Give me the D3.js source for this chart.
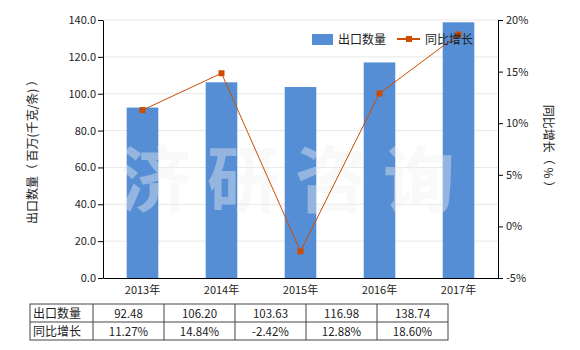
<!DOCTYPE html>
<html>
<head>
<meta charset="utf-8">
<script src="https://cdn.jsdelivr.net/npm/d3@7"></script>
<style>
  body { margin: 0; background: #fff; }
  svg { font-family: "Noto Sans CJK SC", "DejaVu Sans", sans-serif; }
</style>
</head>
<body>
<svg id="chart" width="580" height="350"></svg>
<script>
/*** DATA ***/
const years = ['2013年', '2014年', '2015年', '2016年', '2017年'];
const exportQty = [92.48, 106.20, 103.63, 116.98, 138.74];
const growth = [11.27, 14.84, -2.42, 12.88, 18.60];
const qtyLabels = ['92.48', '106.20', '103.63', '116.98', '138.74'];
const growthLabels = ['11.27%', '14.84%', '-2.42%', '12.88%', '18.60%'];
const leftTicks = [0, 20, 40, 60, 80, 100, 120, 140];
const rightTicks = [-5, 0, 5, 10, 15, 20];

const barColor = '#558ed5';
const lineColor = '#cc4c02';

/*** SCALES ***/
const plot = {left: 103, right: 498, top: 20, bottom: 278};
const svg = d3.select('#chart');

const x = d3.scaleBand().domain(years).range([plot.left, plot.right]).paddingInner(0.6).paddingOuter(0.3);
const y = d3.scaleLinear().domain([0, 140]).range([plot.bottom, plot.top]);
const y2 = d3.scaleLinear().domain([-5, 20]).range([plot.bottom, plot.top]);

// gridlines
svg.append('g')
  .selectAll('line')
  .data(leftTicks.filter(d => d > 0))
  .enter().append('line')
    .attr('x1', plot.left).attr('x2', plot.right)
    .attr('y1', d => y(d)).attr('y2', d => y(d))
    .attr('stroke', '#e8e8e8');

// bars
svg.append('g')
  .selectAll('rect')
  .data(exportQty)
  .enter().append('rect')
    .attr('x', (d, i) => x(years[i]))
    .attr('width', x.bandwidth())
    .attr('y', d => y(d))
    .attr('height', d => y(0) - y(d))
    .attr('fill', barColor);

// watermark
svg.append('text')
  .attr('x', 295).attr('y', 206)
  .attr('text-anchor', 'middle')
  .attr('font-size', 72).attr('font-weight', 'bold')
  .attr('letter-spacing', 16)
  .attr('fill', '#f0f0f0').attr('fill-opacity', 0.4)
  .text('济研咨询');

// line
const cx = i => x(years[i]) + x.bandwidth() / 2;
const line = d3.line().x((d, i) => cx(i)).y(d => y2(d));
svg.append('path')
  .datum(growth)
  .attr('fill', 'none')
  .attr('stroke', lineColor)
  .attr('stroke-width', 1)
  .attr('d', line);

svg.append('g')
  .selectAll('rect')
  .data(growth)
  .enter().append('rect')
    .attr('x', (d, i) => cx(i) - 3)
    .attr('y', d => y2(d) - 3)
    .attr('width', 6).attr('height', 6)
    .attr('fill', lineColor);

/*** AXES ***/
const fmt1 = d3.format('.1f');
const leftAxis = svg.append('g')
  .attr('transform', `translate(${plot.left},0)`)
  .call(d3.axisLeft(y).tickValues(leftTicks).tickFormat(fmt1).tickSize(5).tickSizeOuter(0));

const rightAxis = svg.append('g')
  .attr('transform', `translate(${plot.right},0)`)
  .call(d3.axisRight(y2).tickValues(rightTicks).tickFormat(d => d + '%').tickSize(5).tickSizeOuter(0));

const bottomAxis = svg.append('g')
  .attr('transform', `translate(0,${plot.bottom})`)
  .call(d3.axisBottom(x).tickSize(0).tickSizeOuter(0).tickPadding(8));

[leftAxis, rightAxis, bottomAxis].forEach(g => {
  g.selectAll('path, line').attr('stroke', '#000');
  g.selectAll('text').attr('fill', '#222').attr('font-size', 11)
    .attr('font-family', '"Noto Sans CJK SC", "DejaVu Sans", sans-serif');
});
leftAxis.selectAll('text').attr('dx', 1);

// axis titles
svg.append('text')
  .attr('transform', `translate(37,${(plot.top + plot.bottom) / 2}) rotate(-90)`)
  .attr('text-anchor', 'middle')
  .attr('font-size', 12).attr('fill', '#222')
  .text('出口数量（ 百万(千克/条) ）');

svg.append('text')
  .attr('transform', `translate(544,${(plot.top + plot.bottom) / 2}) rotate(90)`)
  .attr('text-anchor', 'middle')
  .attr('font-size', 12).attr('fill', '#222')
  .text('同比增长（ % ）');

/*** LEGEND ***/
const legend = svg.append('g').attr('font-size', 12).attr('fill', '#222');
legend.append('rect').attr('x', 312).attr('y', 34).attr('width', 21).attr('height', 11).attr('fill', barColor);
legend.append('text').attr('x', 338).attr('y', 44).attr('fill', '#222').text('出口数量');
legend.append('line').attr('x1', 397).attr('x2', 420).attr('y1', 39).attr('y2', 39)
  .attr('stroke', lineColor).attr('stroke-width', 2);
legend.append('rect').attr('x', 406).attr('y', 36).attr('width', 6).attr('height', 6).attr('fill', lineColor);
legend.append('text').attr('x', 425).attr('y', 44).attr('fill', '#222').text('同比增长');

/*** TABLE ***/
const table = {left: 30, firstCol: 93, colW: 71, top: 304, rowH: 18};
const rows = [['出口数量', qtyLabels], ['同比增长', growthLabels]];
const tg = svg.append('g');
const tableRight = table.firstCol + table.colW * years.length;

tg.append('rect')
  .attr('x', table.left).attr('y', table.top)
  .attr('width', tableRight - table.left).attr('height', table.rowH * 2)
  .attr('fill', 'none').attr('stroke', '#444');
tg.append('line')
  .attr('x1', table.left).attr('x2', tableRight)
  .attr('y1', table.top + table.rowH).attr('y2', table.top + table.rowH)
  .attr('stroke', '#444');
d3.range(years.length).forEach(i => {
  const xx = table.firstCol + table.colW * i;
  tg.append('line').attr('x1', xx).attr('x2', xx)
    .attr('y1', table.top).attr('y2', table.top + table.rowH * 2)
    .attr('stroke', '#444');
});
rows.forEach(([name, vals], r) => {
  const ty = table.top + table.rowH * r + 13.5;
  tg.append('text').attr('x', table.left + 3).attr('y', ty)
    .attr('font-size', 12).attr('fill', '#222').text(name);
  vals.forEach((v, i) => {
    tg.append('text')
      .attr('x', table.firstCol + table.colW * i + table.colW / 2)
      .attr('y', ty)
      .attr('text-anchor', 'middle')
      .attr('font-size', 11.5).attr('fill', '#222')
      .text(v);
  });
});
</script>
</body>
</html>
